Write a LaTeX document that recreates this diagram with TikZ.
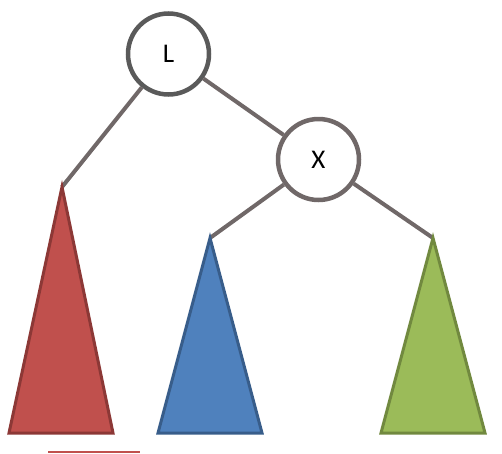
\documentclass[tikz,border=0pt]{standalone}
\usepackage{fontspec}
\setmainfont{Carlito}
\usepackage{xcolor}
\usepackage{tikz}
\usetikzlibrary{positioning,calc}

\definecolor{edgegray}{HTML}{706868}
\definecolor{ringL}{HTML}{5A5A5A}
\definecolor{redfill}{HTML}{C0504D}
\definecolor{redline}{HTML}{8C3836}
\definecolor{bluefill}{HTML}{4F81BD}
\definecolor{blueline}{HTML}{385D8A}
\definecolor{greenfill}{HTML}{9BBB59}
\definecolor{greenline}{HTML}{71893F}

\tikzset{
  keynode/.style={circle,draw=edgegray,line width=4.5pt,fill=white,
    minimum size=81pt,inner sep=0pt,font=\fontsize{27}{30}\selectfont},
  treeedge/.style={edgegray,line width=4pt},
  subtree/.style={line width=3pt,line join=miter}
}

\begin{document}
\begin{tikzpicture}[x=1pt,y=-1pt]
  \useasboundingbox (0,0) rectangle (502,453);
  % apexes of the subtrees
  \coordinate (redtop) at (62,187);
  \coordinate (bluetop) at (210,238);
  \coordinate (greentop) at (433,238);
  % key nodes and edges
  \node[keynode,draw=ringL] (L) at (168.5,54) {L};
  \node[keynode] (X) at (318.5,159.5) {X};
  \draw[treeedge] (L) -- (redtop);
  \draw[treeedge] (L) -- (X);
  \draw[treeedge] (X) -- (bluetop);
  \draw[treeedge] (X) -- (greentop);
  % subtrees
  \filldraw[subtree,fill=redfill,draw=redline]
    (redtop) -- (9,433) -- (113,433) -- cycle;
  \filldraw[subtree,fill=bluefill,draw=blueline]
    (bluetop) -- (158,433) -- (262,433) -- cycle;
  \filldraw[subtree,fill=greenfill,draw=greenline]
    (greentop) -- (381,433) -- (485,433) -- cycle;
  \coordinate (marka) at (48,452);
  \coordinate (markb) at (140,452);
  \draw[redfill,line width=1.5pt] (marka) -- (markb);
\end{tikzpicture}
\end{document}
